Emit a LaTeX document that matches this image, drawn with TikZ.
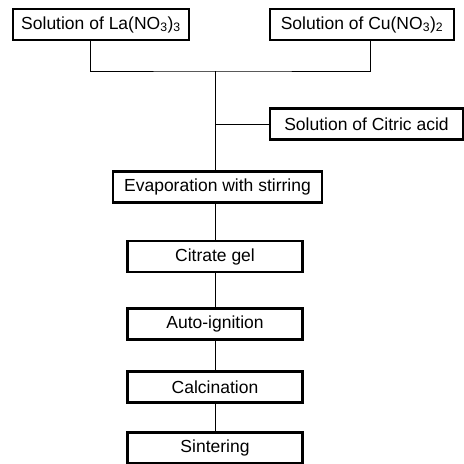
\documentclass[tikz,border=0pt]{standalone}
\usepackage{fontspec}
\setmainfont{Liberation Sans}
\usetikzlibrary{positioning}

\begin{document}
\begin{tikzpicture}[x=1pt,y=-1pt,
		every node/.style={font=\fontsize{17.5}{20}\selectfont},
		stage/.style={draw,line width=2.4pt,minimum height=31pt,inner sep=0pt},
		link/.style={line width=0.8pt}
	]
	\useasboundingbox (0,0) rectangle (464,464);

	% Starting solutions
	\node[stage,minimum width=176pt] (la) at (101,24.5) {Solution of La(NO\textsubscript{3})\textsubscript{3}};
	\node[stage,minimum width=184pt] (cu) at (362,24.5) {Solution of Cu(NO\textsubscript{3})\textsubscript{2}};
	\node[stage,minimum width=193pt] (citric) at (366.5,124) {Solution of Citric acid};
	\coordinate (mix) at (215,71);

	% Process steps
	\node[stage,minimum width=209pt] (evap) at (217.5,187) {Evaporation with stirring};
	\node[stage,minimum width=175pt] (gel) at (215,256.5) {Citrate gel};
	\node[stage,minimum width=175pt] (ignite) at (215,324) {Auto-ignition};
	\node[stage,minimum width=175pt] (calc) at (215,387) {Calcination};
	\node[stage,minimum width=175pt] (sinter) at (215,448) {Sintering};

	% Connections
	\draw[link] ([xshift=-11pt]la.south) |- (mix) -| ([xshift=8pt]cu.south);
	\draw[link] (mix) -- (evap.north -| mix);
	\draw[link] (citric.west) -- (citric.west -| mix);
	\draw[link] (evap.south -| mix) -- (gel);
	\draw[link] (gel) -- (ignite);
	\draw[link] (ignite) -- (calc);
	\draw[link] (calc) -- (sinter);

\end{tikzpicture}
\end{document}
